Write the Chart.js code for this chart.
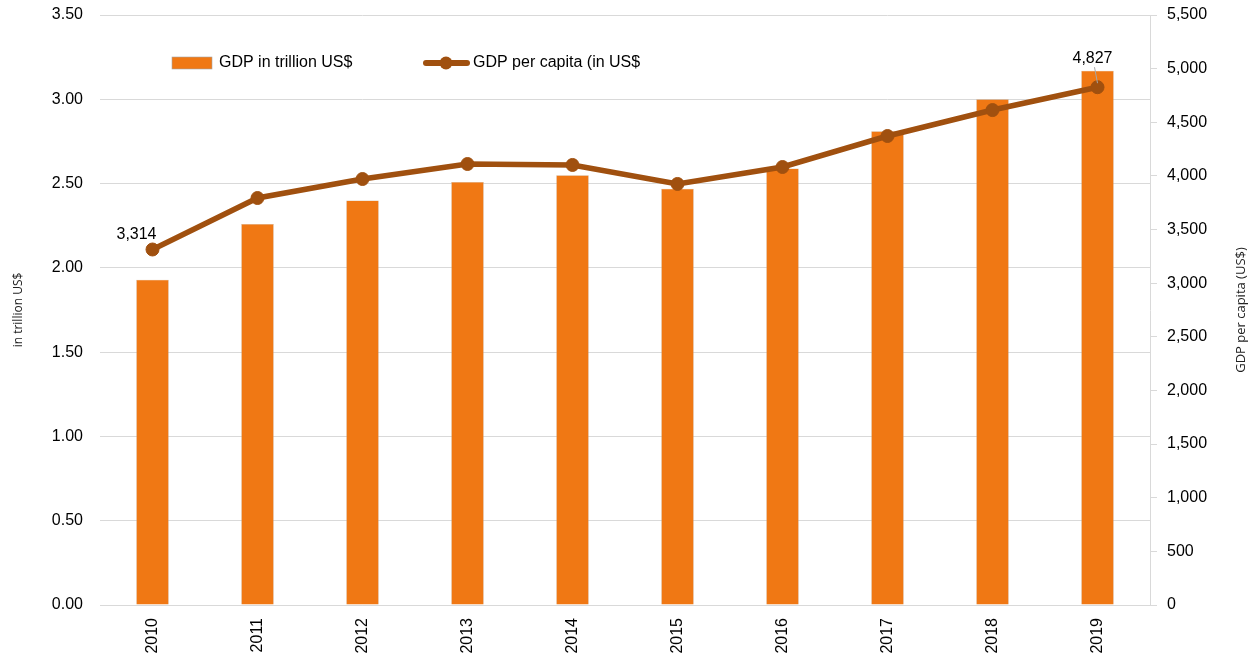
<!DOCTYPE html>
<html>
<head>
<meta charset="utf-8">
<script src="https://cdn.jsdelivr.net/npm/chart.js@4.4.1/dist/chart.umd.min.js"></script>
<style>
  html, body { margin: 0; padding: 0; background: #fff; }
  #wrap { width: 1255px; height: 658px; }
</style>
</head>
<body>
<div id="wrap"><canvas id="gdpChart" width="1255" height="658"></canvas></div>
<script>
// data
const years = ['2010', '2011', '2012', '2013', '2014', '2015', '2016', '2017', '2018', '2019'];
const gdpTrillion = [1.93, 2.26, 2.40, 2.51, 2.55, 2.47, 2.59, 2.81, 3.00, 3.17];
const gdpPerCapita = [3314, 3794, 3971, 4111, 4102, 3925, 4083, 4372, 4614, 4827];
const labelledPoints = [0, 9]; // only first and last point get a value label

const barColor = '#F07814';
const lineColor = '#A0500F';
const gridColor = '#D9D9D9';

// value labels on the line (first + last)
const pointLabels = {
  id: 'pointLabels',
  afterDatasetsDraw(chart) {
    const ctx = chart.ctx;
    const meta = chart.getDatasetMeta(1);
    ctx.save();
    ctx.font = '16px "Liberation Sans", Arial, sans-serif';
    ctx.fillStyle = '#000';
    ctx.textAlign = 'center';
    ctx.textBaseline = 'alphabetic';
    labelledPoints.forEach(i => {
      const pt = meta.data[i];
      const txt = gdpPerCapita[i].toLocaleString('en-US');
      if (i === 0) {
        ctx.fillText(txt, pt.x - 16, pt.y - 10);
      } else {
        ctx.fillText(txt, pt.x - 5, pt.y - 24);
        // small leader line
        ctx.strokeStyle = '#A6A6A6';
        ctx.lineWidth = 1;
        ctx.beginPath();
        ctx.moveTo(pt.x - 3, pt.y - 20);
        ctx.lineTo(pt.x, pt.y - 4);
        ctx.stroke();
      }
    });
    ctx.restore();
  }
};

// legend drawn inside the plot, plus right axis title reading bottom-up
const insideLegend = {
  id: 'insideLegend',
  afterDraw(chart) {
    const ctx = chart.ctx;
    const ds = chart.data.datasets;
    const y = 63;
    ctx.save();
    ctx.font = '16px "Liberation Sans", Arial, sans-serif';
    ctx.textBaseline = 'middle';
    ctx.textAlign = 'left';

    // bar entry
    ctx.fillStyle = ds[0].backgroundColor;
    ctx.fillRect(172, y - 6, 40, 12);
    ctx.strokeStyle = '#A6A6A6';
    ctx.lineWidth = 0.6;
    ctx.strokeRect(172, y - 6, 40, 12);
    ctx.fillStyle = '#000';
    ctx.fillText(ds[0].label, 219, y);

    // line entry
    ctx.strokeStyle = ds[1].borderColor;
    ctx.lineWidth = 6;
    ctx.lineCap = 'round';
    ctx.beginPath();
    ctx.moveTo(426, y);
    ctx.lineTo(467, y);
    ctx.stroke();
    ctx.fillStyle = ds[1].borderColor;
    ctx.beginPath();
    ctx.arc(446, y, 6.5, 0, Math.PI * 2);
    ctx.fill();
    ctx.fillStyle = '#000';
    ctx.fillText(ds[1].label, 473, y);

    // right axis title
    const area = chart.chartArea;
    ctx.translate(1241, (area.top + area.bottom) / 2);
    ctx.rotate(-Math.PI / 2);
    ctx.textAlign = 'center';
    ctx.font = '13px "Open Sans", "Noto Sans", sans-serif';
    ctx.fillStyle = '#222';
    ctx.fillText('GDP per capita (US$)', 0, 0);
    ctx.restore();
  }
};

const tickFont = { family: '"Liberation Sans", Arial, sans-serif', size: 16 };

// drop the automatic half-label padding so the plot can start near the top
function fixVertical(width) {
  return function(scale) {
    scale.width = width;
    scale.paddingTop = 0;
    scale.paddingBottom = 0;
  };
}

new Chart(document.getElementById('gdpChart'), {
  data: {
    labels: years,
    datasets: [
      {
        type: 'bar',
        label: 'GDP in trillion US$',
        data: gdpTrillion,
        yAxisID: 'y',
        backgroundColor: barColor,
        borderColor: '#C8A888',
        borderWidth: 0.5,
        categoryPercentage: 1,
        barPercentage: 0.31,
        order: 2
      },
      {
        type: 'line',
        label: 'GDP per capita (in US$',
        data: gdpPerCapita,
        yAxisID: 'y1',
        borderColor: lineColor,
        backgroundColor: lineColor,
        borderWidth: 5.5,
        tension: 0,
        pointRadius: 6.5,
        pointBorderWidth: 1,
        pointBackgroundColor: lineColor,
        pointBorderColor: lineColor,
        order: 1
      }
    ]
  },
  options: {
    responsive: false,
    animation: false,
    layout: { padding: { top: 15, right: 0, left: 0, bottom: 0 } },
    plugins: {
      legend: { display: false },
      tooltip: { enabled: false }
    },
    scales: {
      x: {
        grid: { display: false, drawTicks: false },
        border: { color: gridColor, width: 1 },
        ticks: {
          font: tickFont,
          color: '#000',
          maxRotation: 90,
          minRotation: 90,
          padding: 13
        },
        afterFit(scale) {
          scale.height = 53;
          scale.paddingLeft = 0;
          scale.paddingRight = 0;
        }
      },
      y: {
        position: 'left',
        min: 0,
        max: 3.5,
        grid: { color: gridColor, drawTicks: false },
        border: { display: false },
        ticks: {
          stepSize: 0.5,
          font: tickFont,
          color: '#000',
          padding: 17,
          callback: v => v.toFixed(2)
        },
        title: {
          display: true,
          text: 'in trillion US$',
          color: '#222',
          font: { family: '"Open Sans", "Noto Sans", sans-serif', size: 12 },
          padding: { top: 11, bottom: 0 }
        },
        afterFit: fixVertical(100)
      },
      y1: {
        position: 'right',
        min: 0,
        max: 5500,
        grid: { drawOnChartArea: false, color: gridColor, tickLength: 7 },
        border: { color: gridColor, width: 1 },
        ticks: {
          stepSize: 500,
          font: tickFont,
          color: '#000',
          padding: 10,
          callback: v => v.toLocaleString('en-US')
        },
        afterFit: fixVertical(105)
      }
    }
  },
  plugins: [pointLabels, insideLegend]
});
</script>
</body>
</html>
